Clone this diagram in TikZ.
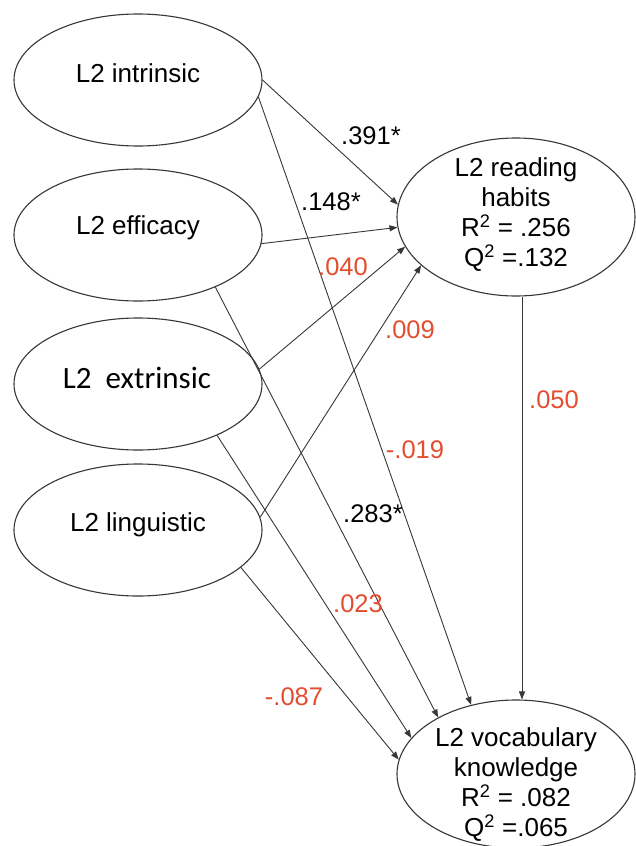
\documentclass[tikz,border=0pt]{standalone}
\usepackage{fontspec}
\setmainfont{Liberation Sans}
\newfontfamily\altfont{Carlito}
\usetikzlibrary{shapes.geometric,arrows.meta}
\definecolor{edge}{RGB}{55,55,55}
\definecolor{coef}{RGB}{228,78,48}
\begin{document}
\begin{tikzpicture}[x=1pt,y=-1pt,
  latent/.style={ellipse,draw=edge,line width=1.1pt,minimum width=248pt,minimum height=132pt,inner sep=0pt},
  outcome/.style={latent,minimum width=238pt,minimum height=156pt},
  caption/.style={inner sep=0pt,align=center,font=\fontsize{26}{30}\selectfont},
  path/.style={draw=edge,line width=0.9pt,-{Triangle[length=8pt,width=6pt]}},
  coefk/.style={inner sep=0pt,font=\fontsize{25.5}{28}\selectfont,text=black},
  coefr/.style={coefk,text=coef}]
\fill[white] (0,0) rectangle (635,846);
\useasboundingbox (0,0) rectangle (635,846);

% predictors
\node[latent] (intr) at (138,80) {};
\node[latent] (effi) at (138,235) {};
\node[latent] (extr) at (138,384) {};
\node[latent] (ling) at (138,530) {};
\node[caption] (intr-t) at ([yshift=7pt]intr.center) {L2 intrinsic};
\node[caption] (effi-t) at ([yshift=7pt]effi.center) {L2 efficacy};
\node[caption,font=\altfont\fontsize{31}{30}\selectfont] (extr-t) at ([yshift=6pt,xshift=-1pt]extr.center) {L2\ \ extrinsic};
\node[caption] (ling-t) at ([yshift=5pt]ling.center) {L2 linguistic};

% outcomes
\node[outcome,minimum height=158pt] (read) at (516,217) {};
\node[outcome,minimum height=148pt] (voc) at (516,774) {};
\node[caption] (read-t) at ([yshift=2pt]read.center) {L2 reading\\habits\\R\textsuperscript{2} = .256\\Q\textsuperscript{2} =.132};
\node[caption] (voc-t) at ([yshift=-11pt]voc.center) {L2 vocabulary\\knowledge\\R\textsuperscript{2} = .082\\Q\textsuperscript{2} =.065};

% paths to reading habits
\draw[path] (intr.0) -- (read.174);
\draw[path] (effi.-4) -- (read.185);
\draw[path] (extr.7.5) -- (read.195);
\draw[path] (ling.6.8) -- (read.207);

% paths to vocabulary knowledge
\draw[path] (intr.-8.4) -- (voc.123);
\draw[path] (effi.-34) -- (voc.144);
\draw[path] (extr.-33) -- (voc.161);
\draw[path] (ling.-20) -- (voc.173.5);
\draw[path] ([xshift=6pt]read.south) -- ([xshift=6pt]voc.north);

% path coefficients
\node[coefk] (c1) at (371,136) {.391*};
\node[coefk] (c2) at (331,202) {.148*};
\node[coefr] (c3) at (343,267) {.040};
\node[coefr] (c4) at (410,330) {.009};
\node[coefr] (c5) at (554,400) {.050};
\node[coefr] (c6) at (415,450) {-.019};
\node[coefk] (c7) at (373,514) {.283*};
\node[coefr] (c8) at (358,604) {.023};
\node[coefr] (c9) at (294,697) {-.087};
\end{tikzpicture}
\end{document}
